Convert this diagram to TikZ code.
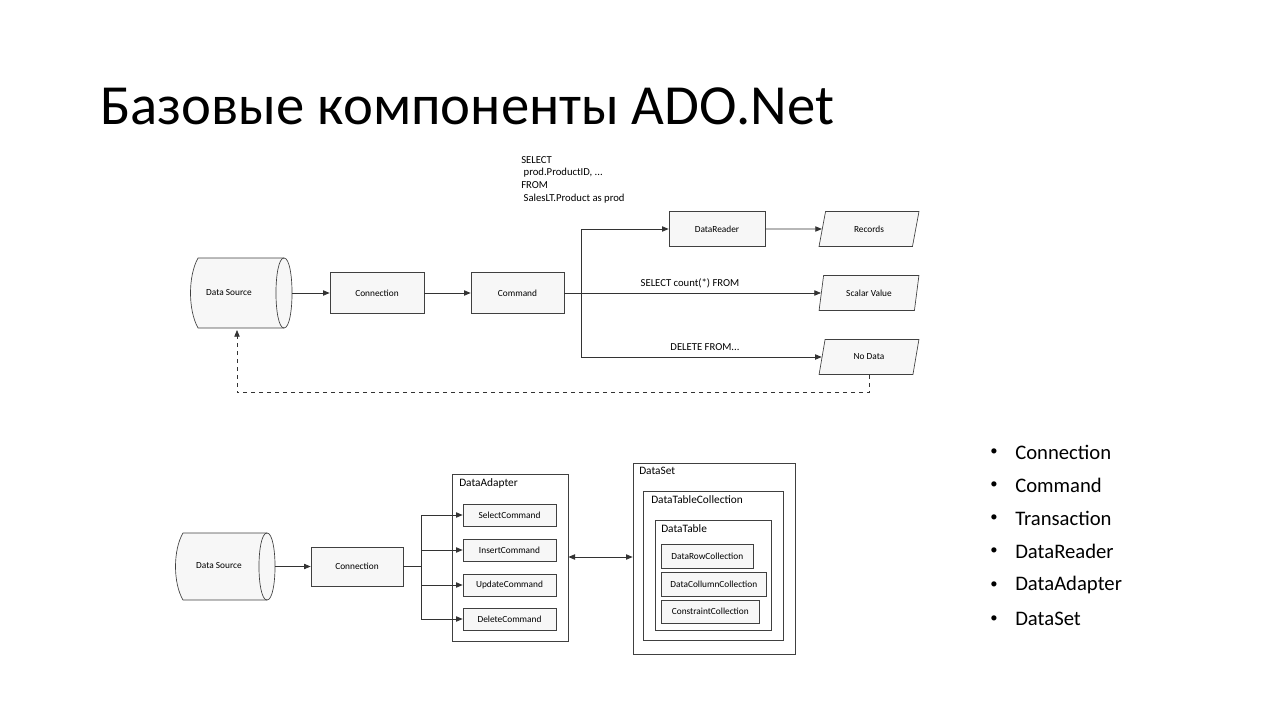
\documentclass[tikz,border=0pt]{standalone}
\usepackage{fontspec}
\setmainfont{Carlito}
\usetikzlibrary{arrows.meta,shapes.geometric}
\begin{document}
\begin{tikzpicture}[x=0.75pt,y=-0.75pt,
  box/.style={draw=black!75,fill=gray!6,line width=0.5pt,font=\fontsize{7}{8}\selectfont,inner sep=0},
  para/.style={draw=black!75,fill=gray!6,line width=0.5pt,font=\fontsize{7}{8}\selectfont,trapezium,trapezium left angle=71,trapezium right angle=109,inner sep=0,minimum height=26.25pt,minimum width=75pt,trapezium stretches=true},
  frame/.style={draw=black!75,line width=0.5pt},
  lbl/.style={font=\fontsize{8.5}{9}\selectfont,anchor=west,inner sep=0},
  conn/.style={draw=black!80,line width=0.6pt},
  arr/.style={conn,-{Triangle[length=5pt,width=4pt]}},
  txt/.style={font=\fontsize{8}{9.5}\selectfont,inner sep=0}]
\useasboundingbox (0,0) rectangle (1280,720);
\node[anchor=base west,inner sep=0,font=\fontsize{42.5}{44}\selectfont] (title) at (100,125) {Базовые компоненты ADO.Net};

% ---- top ----
\draw[frame,fill=gray!6] (198,258) -- (284,258) .. controls (294.7,258) and (294.7,328) .. (284,328) -- (198,328) .. controls (188,310) and (188,276) .. (198,258) -- cycle;
\draw[frame] (284,258) .. controls (273.3,258) and (273.3,328) .. (284,328);
\node[minimum width=75pt,minimum height=52.5pt,inner sep=0,font=\fontsize{7}{8}\selectfont] (ds) at (229,293) {Data Source};
\coordinate (dsr) at (292,293);
\node[box,minimum width=70.5pt,minimum height=30.75pt] (conn) at (377,293) {Connection};
\node[box,minimum width=69.75pt,minimum height=30.75pt] (cmd) at (517.5,293) {Command};
\node[box,minimum width=72pt,minimum height=26.25pt] (dr) at (717,229) {DataReader};
\node[para] (rec) at (869,229) {Records};
\node[para] (sv) at (869,293) {Scalar Value};
\node[para] (nd) at (869,357) {No Data};
\coordinate (br) at (581,293);
\draw[arr] (dsr) -- (conn.west);
\draw[arr] (conn) -- (cmd);
\draw[conn] (cmd.east) -- (br);
\draw[arr] (br) |- (dr.west);
\draw[arr] (br) -- (sv.west);
\draw[arr] (br) |- (nd.west);
\draw[arr] (dr) -- (rec.west);
\coordinate (dsb) at (237,330);
\draw[conn,dashed,-{Triangle[length=5pt,width=4pt]}] (nd.south) -- ++(0,18) -| (dsb);
\node[txt,anchor=north west,align=left] (sql) at (521,156) {SELECT\\\ prod.ProductID, ...\\FROM\\\ SalesLT.Product as prod};
\node[txt,anchor=base] (q1) at (690,286) {SELECT count(*) FROM};
\node[txt,anchor=base] (q2) at (705,350) {DELETE FROM...};

% ---- bottom ----
\draw[frame,fill=gray!6] (183,533) -- (267,533) .. controls (277.7,533) and (277.7,600) .. (267,600) -- (183,600) .. controls (173,583) and (173,550) .. (183,533) -- cycle;
\draw[frame] (267,533) .. controls (256.3,533) and (256.3,600) .. (267,600);
\node[minimum width=75pt,minimum height=50pt,inner sep=0,font=\fontsize{7}{8}\selectfont] (ds2) at (219,566) {Data Source};
\coordinate (ds2r) at (275,566.5);
\node[box,minimum width=69pt,minimum height=29.25pt] (conn2) at (357,566.5) {Connection};
\node[frame,minimum width=87pt,minimum height=125.25pt,inner sep=0] (da) at (510,557.5) {};
\node[lbl] (dal) at (459,483) {DataAdapter};
\foreach \n/\t/\y in {sel/SelectCommand/515,ins/InsertCommand/550,upd/UpdateCommand/585,del/DeleteCommand/619}
  \node[box,minimum width=69.75pt,minimum height=16.5pt] (\n) at (509.5,\y) {\t};
\coordinate (br2) at (421,566.5);
\draw[conn] (conn2.east) -- (br2);
\draw[arr] (ds2r) -- (conn2.west);
\foreach \n in {sel,ins,upd,del} \draw[arr] (br2) |- (\n.west);
\node[frame,minimum width=121.5pt,minimum height=143.25pt,inner sep=0] (dset) at (714,558.5) {};
\node[lbl] (dsetl) at (639,471) {DataSet};
\node[frame,minimum width=105pt,minimum height=111.75pt,inner sep=0] (dtc) at (713,565.5) {};
\node[lbl] (dtcl) at (651,500) {DataTableCollection};
\node[frame,minimum width=87pt,minimum height=82.5pt,inner sep=0] (dt) at (713,575) {};
\node[lbl] (dtl) at (661,529) {DataTable};
\node[box,anchor=west,minimum width=69pt,minimum height=18pt] (drc) at (661,556) {DataRowCollection};
\node[box,anchor=west,minimum width=78.75pt,minimum height=18pt] (dcc) at (661,584) {DataCollumnCollection};
\node[box,anchor=west,minimum width=73.5pt,minimum height=17.25pt] (cc) at (661,611.5) {ConstraintCollection};
\draw[conn,{Triangle[length=5pt,width=4pt]}-{Triangle[length=5pt,width=4pt]}] (da.east |- 0,557) -- (dset.west |- 0,557);

% ---- bullets ----
\foreach \t/\y [count=\i] in {Connection/452,Command/485,Transaction/518,DataReader/551,DataAdapter/585,DataSet/619}{
  \node[font=\fontsize{11}{12}\selectfont,inner sep=0] (b\i) at (994,\y) {•};
  \node[font=\fontsize{15.5}{16}\selectfont,anchor=west,inner sep=0] (t\i) at (1015,\y) {\t};
}
\end{tikzpicture}
\end{document}
